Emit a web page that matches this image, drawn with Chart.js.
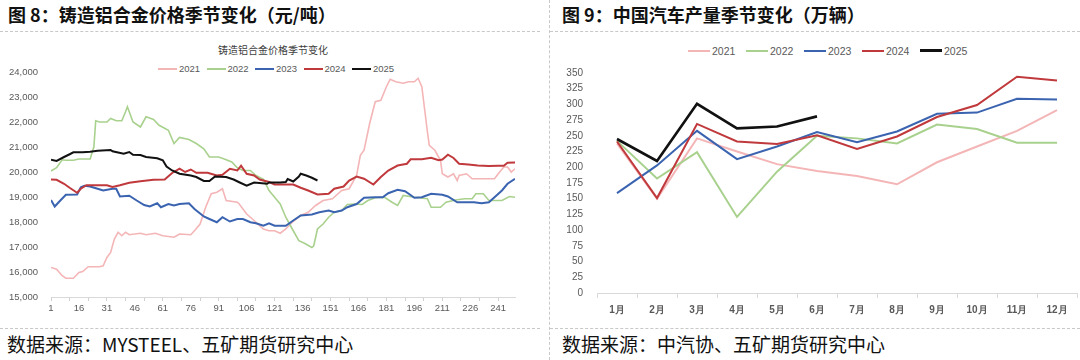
<!DOCTYPE html>
<html>
<head>
<meta charset="utf-8">
<script src="https://cdn.jsdelivr.net/npm/chart.js@4.4.1/dist/chart.umd.min.js"></script>
<style>
  html, body { margin:0; padding:0; background:#fff; }
  body { width:1080px; height:360px; position:relative; overflow:hidden; font-family:"Noto Sans CJK SC","Noto Sans",sans-serif; }
  .abs { position:absolute; }
  .title { font-weight:bold; font-size:18px; line-height:20px; color:#111; white-space:nowrap; }
  .src { font-size:19px; line-height:21px; color:#111; white-space:nowrap; }
  .hd { border-top:1px dashed #c8c8c8; height:0; }
  .vd { border-left:1px dashed #c8c8c8; width:0; }
  .lg { font-family:"Liberation Sans",Arial,sans-serif; color:#595959; white-space:nowrap; }
</style>
</head>
<body>
<div class="abs title" style="left:8px;top:4px;">图 8：铸造铝合金价格季节变化（元/吨）</div>
<div class="abs title" style="left:562px;top:4px;">图 9：中国汽车产量季节变化（万辆）</div>
<div class="abs hd" style="left:0;top:31px;width:540px;"></div>
<div class="abs hd" style="left:550px;top:31px;width:530px;"></div>
<div class="abs vd" style="left:549px;top:0;height:360px;"></div>
<div class="abs hd" style="left:0;top:328px;width:540px;"></div>
<div class="abs hd" style="left:550px;top:328px;width:530px;"></div>
<div class="abs src" style="left:7px;top:333px;">数据来源：MYSTEEL、五矿期货研究中心</div>
<div class="abs src" style="left:562px;top:333px;">数据来源：中汽协、五矿期货研究中心</div>
<div class="abs" style="left:173px;top:43px;width:200px;text-align:center;font-size:10px;line-height:14px;color:#404040;">铸造铝合金价格季节变化</div>
<div id="legL"></div>
<div id="legR"></div>
<canvas id="cL" class="abs" width="540" height="360" style="left:0;top:0;"></canvas>
<canvas id="cR" class="abs" width="531" height="360" style="left:549px;top:0;"></canvas>
<script>
// ---------- Figure 8: casting aluminium alloy price (yuan/ton), by trading day ----------
const seriesNames = ['2021','2022','2023','2024','2025'];
const xTickLabels = [1,16,31,46,61,76,91,106,121,136,151,166,181,196,211,226,241];
const yTickMin = 15000, yTickMax = 24000, yTickStep = 1000;

const days2021 = [1,4,7,9,13,16,18,21,27,29,31,33,35,37,39,41,43,49,52,57,61,67,70,76,78,81,84,87,90,93,95,101,102,106,110,113,115,118,121,124,127,131,135,139,143,147,152,157,161,165,167,169,172,175,178,181,183,186,190,193,196,198,200,202,203,204,207,210,211,214,217,219,220,224,227,232,239,241,244,246,248,250];
const price2021 = [16180,16110,15850,15750,15750,15980,16020,16210,16210,16250,16580,16780,17320,17590,17450,17590,17490,17550,17490,17550,17450,17390,17520,17490,17650,17920,18590,19130,19190,19330,18860,18790,18720,18320,18060,17850,17720,17650,17650,17550,17720,18030,18260,18390,18660,18860,18930,19260,19330,19860,20670,20870,21940,22810,22870,23410,23710,23610,23550,23610,23610,23750,23410,22210,21600,21070,20870,20470,19930,19800,19930,19660,19860,19930,19730,19730,19730,19930,20200,20200,20000,20130];

const days2022 = [1,4,7,9,13,16,22,24,25,27,31,33,36,39,41,42,45,49,52,56,59,64,67,70,75,79,83,86,91,94,98,101,104,108,111,115,118,121,124,127,131,134,137,141,142,144,147,150,153,157,160,164,168,171,175,180,184,187,190,196,203,205,210,213,218,223,227,229,233,236,243,247,250];
const price2022 = [20040,20170,20490,20470,20470,20520,20520,21000,22050,22000,22000,22140,22050,22050,22410,22610,22000,21800,22210,22100,21870,21670,21140,21380,21300,21140,20930,20600,20600,20520,20400,20170,20060,20060,19860,19710,19260,18990,18720,18190,17650,17250,17150,16980,17050,17720,17920,18190,18390,18460,18700,18720,18700,18860,18970,18990,18790,18660,19060,18990,18930,18590,18590,18790,18880,18930,18930,19130,19130,18860,18860,19020,18990];

const days2023 = [1,3,6,9,15,17,19,22,26,29,34,36,38,43,47,51,54,58,60,64,67,70,75,78,83,86,90,93,97,101,104,108,111,115,118,121,127,131,135,141,145,150,153,157,160,165,169,175,179,182,187,191,196,200,205,211,214,219,223,228,232,236,239,243,246,250];
const price2023 = [18880,18620,18860,19090,19100,19390,19450,19420,19330,19260,19330,19330,19020,19050,18860,18680,18620,18750,18590,18720,18660,18720,18750,18520,18220,18120,17990,18190,18020,18120,18120,17990,17950,17850,17950,17850,17850,18060,18260,18300,18390,18460,18390,18460,18590,18720,18970,18990,18990,19150,19290,19230,18970,18990,19130,19090,19020,18790,18790,18790,18750,18790,18990,19260,19530,19730];

const days2024 = [1,4,8,11,15,17,20,31,34,38,43,49,56,62,66,70,73,76,79,85,90,93,97,101,103,106,110,113,118,121,127,131,135,139,144,150,153,158,161,165,169,174,178,182,187,192,194,200,205,209,211,214,217,220,225,230,236,241,244,246,250];
const price2024 = [19700,19690,19530,19370,19170,19330,19470,19470,19400,19470,19570,19630,19690,19700,19960,20130,20000,20100,19970,19970,19860,19890,20130,20060,20250,19930,19860,19700,19600,19500,19500,19500,19370,19260,19100,19130,19330,19420,19660,19820,19730,19500,19800,20060,20260,20330,20510,20510,20570,20470,20500,20690,20560,20330,20300,20260,20240,20250,20250,20370,20380];

const days2025 = [1,4,8,11,13,18,22,26,33,34,40,43,45,49,52,58,61,63,66,70,76,79,83,86,89,95,99,102,106,110,117,118,124,127,128,131,134,135,138,141,144];
const price2025 = [20490,20440,20600,20710,20790,20790,20810,20850,20880,20830,20730,20800,20690,20680,20600,20550,20470,20220,20060,19930,19860,19800,19640,19640,19820,19800,19700,19590,19450,19580,19530,19580,19580,19600,19720,19620,19820,19930,19860,19770,19660];

// ---------- Figure 9: China auto production (10k units), by month ----------
const months = ['1月','2月','3月','4月','5月','6月','7月','8月','9月','10月','11月','12月'];
const prod2021 = [238,150,246,225,205,194,186,173,208,233,258,291];
const prod2022 = [242,182,224,121,193,250,246,238,268,261,239,239];
const prod2023 = [159,203,258,213,233,256,240,257,285,287,309,308];
const prod2024 = [241,151,269,241,237,251,229,249,280,299,344,338];
const prod2025 = [245,210,301,262,265,281];

const colors = ['#f4b5b7','#a9d18e','#3a63b0','#c0393c','#111111'];
const widthsL = [1.6,1.6,2,2,2];
const widthsR = [2,2,2,2,2.6];

function pairs(d, v){ return d.map((x,i)=>({x:x, y:v[i]})); }
const leftData = [pairs(days2021,price2021),pairs(days2022,price2022),pairs(days2023,price2023),pairs(days2024,price2024),pairs(days2025,price2025)];
const rightData = [prod2021,prod2022,prod2023,prod2024,prod2025];

// legends (HTML)
function legend(id, x0, pitch, lineW, y, fs, widths){
  const host = document.getElementById(id);
  seriesNames.forEach((n,i)=>{
    const l = document.createElement('div');
    l.className='abs';
    const lw = Math.max(2, Math.round(widths[i]));
    l.style.cssText = `left:${x0+i*pitch}px;top:${y-lw/2}px;width:${lineW}px;height:${lw}px;background:${colors[i]};`;
    host.appendChild(l);
    const t = document.createElement('div');
    t.className='abs lg';
    t.style.cssText = `left:${x0+i*pitch+lineW+2}px;top:${y-7}px;font-size:${fs}px;line-height:14px;`;
    t.textContent = n;
    host.appendChild(t);
  });
}
legend('legL', 158, 48.5, 19, 69, 9.5, widthsL);
legend('legR', 688, 58, 22, 50.5, 10.5, widthsR);

Chart.defaults.font.family = '"Liberation Sans", Arial, sans-serif';
Chart.defaults.color = '#595959';

new Chart(document.getElementById('cL'), {
  type:'line',
  data:{ datasets: seriesNames.map((n,i)=>({
    label:n, data:leftData[i], borderColor:colors[i], borderWidth:widthsL[i],
    pointRadius:0, tension:0, fill:false, order: 5-i
  }))},
  options:{
    responsive:false, animation:false, devicePixelRatio:1,
    parsing:true,
    layout:{ padding:{ left:0, right:25, top:72, bottom:38 } },
    plugins:{ legend:{display:false}, title:{display:false}, tooltip:{enabled:false} },
    scales:{
      x:{
        type:'linear', min:1, max:250,
        afterBuildTicks:(s)=>{ const t=[]; for(let v=1; v<=246; v+=5) t.push({value:v}); s.ticks=t; },
        afterFit:(s)=>{ s.height = 25; },
        ticks:{ autoSkip:false, maxRotation:0, padding:2, font:{size:9.5},
          callback:(v)=> xTickLabels.includes(v) ? String(v) : '' },
        grid:{ drawOnChartArea:false, drawTicks:true, tickLength:4,
          color:(c)=> (c.tick && (c.tick.value-1)%10===0) ? '#d0d0d0' : 'rgba(0,0,0,0)' },
        border:{ display:true, color:'#d9d9d9', width:1 }
      },
      y:{
        min:yTickMin, max:yTickMax,
        afterFit:(s)=>{ s.width = 51; },
        ticks:{ stepSize:yTickStep, padding:5, font:{size:9.5},
          callback:(v)=> v.toLocaleString('en-US') },
        grid:{ display:false },
        border:{ display:false }
      }
    }
  }
});

new Chart(document.getElementById('cR'), {
  type:'line',
  data:{ labels:months, datasets: seriesNames.map((n,i)=>({
    label:n, data:rightData[i], borderColor:colors[i], borderWidth:widthsR[i],
    pointRadius:0, tension:0, fill:false, order: 5-i
  }))},
  options:{
    responsive:false, animation:false, devicePixelRatio:1,
    layout:{ padding:{ left:0, right:3, top:73, bottom:42 } },
    plugins:{ legend:{display:false}, title:{display:false}, tooltip:{enabled:false} },
    scales:{
      x:{
        type:'category', offset:true,
        afterFit:(s)=>{ s.height = 25; },
        ticks:{ autoSkip:false, maxRotation:0, padding:6, font:{size:10, weight:'bold'} },
        grid:{ offset:true, drawOnChartArea:false, drawTicks:true, tickLength:5, color:'#d9d9d9' },
        border:{ display:true, color:'#d9d9d9', width:1 }
      },
      y:{
        min:0, max:350,
        afterFit:(s)=>{ s.width = 48; },
        ticks:{ stepSize:25, padding:6, font:{size:10} },
        grid:{ display:false },
        border:{ display:false }
      }
    }
  }
});
</script>
</body>
</html>
